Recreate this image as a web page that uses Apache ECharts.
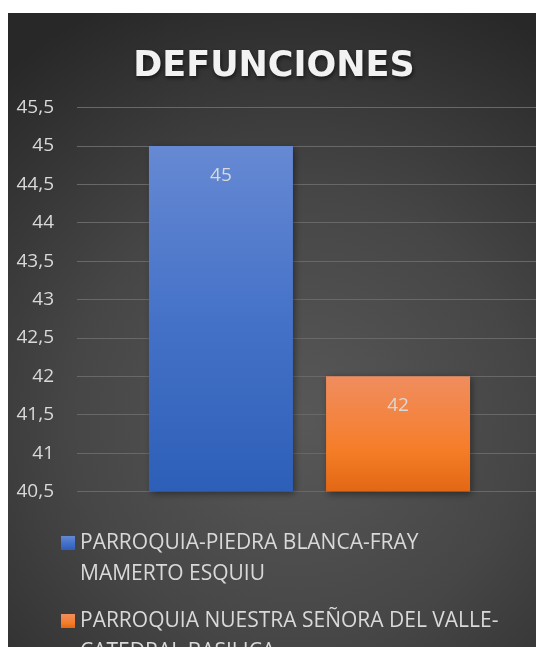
<!DOCTYPE html>
<html>
<head>
<meta charset="utf-8">
<script src="https://cdn.jsdelivr.net/npm/echarts@6/dist/echarts.min.js"></script>
<style>
html,body{margin:0;padding:0;background:#ffffff;width:536px;height:647px;overflow:hidden;}
#chart{position:absolute;left:8px;top:13px;width:534px;height:634px;}
</style>
</head>
<body>
<div id="chart"></div>
<script>
const titleText = 'DEFUNCIONES';
const categories = [''];
const seriesNames = [
  'PARROQUIA-PIEDRA BLANCA-FRAY MAMERTO ESQUIU',
  'PARROQUIA NUESTRA SEÑORA DEL VALLE-CATEDRAL BASILICA'
];
const legendLines = [
  ['PARROQUIA-PIEDRA BLANCA-FRAY', 'MAMERTO ESQUIU'],
  ['PARROQUIA NUESTRA SEÑORA DEL VALLE-', 'CATEDRAL BASILICA']
];
const seriesValues = [[45], [42]];
const yMin = 40.5, yMax = 45.5, yStep = 0.5;

function grad(stops) {
  return new echarts.graphic.LinearGradient(0, 0, 0, 1, stops.map(s => ({offset: s[0], color: s[1]})));
}
const fills = [
  grad([[0, '#6689d3'], [0.5, '#4572c8'], [1, '#2d5fb8']]),
  grad([[0, '#f08d5e'], [0.45, '#f4823a'], [0.65, '#f57d26'], [1, '#e26715']])
];

const chart = echarts.init(document.getElementById('chart'), null, {renderer: 'canvas'});
const option = {
  backgroundColor: new echarts.graphic.RadialGradient(0.54, 0.64, 0.85, [
    {offset: 0, color: '#585858'},
    {offset: 0.5, color: '#464646'},
    {offset: 1, color: '#282828'}
  ]),
  animation: false,
  title: {
    text: titleText,
    left: 261,
    top: 31,
    textAlign: 'center',
    textStyle: {
      fontFamily: 'DejaVu Sans',
      fontWeight: 'bold',
      fontSize: 35,
      color: '#f2f2f2',
      textShadowColor: 'rgba(0,0,0,0.6)',
      textShadowBlur: 4,
      textShadowOffsetX: 1,
      textShadowOffsetY: 2
    }
  },
  grid: {left: 69, right: 0, top: 94.5, height: 384, containLabel: false},
  xAxis: {
    type: 'category',
    data: categories,
    axisLine: {show: false},
    axisTick: {show: false},
    axisLabel: {show: false},
    splitLine: {show: false}
  },
  yAxis: {
    type: 'value',
    min: yMin,
    max: yMax,
    interval: yStep,
    axisLine: {show: false},
    axisTick: {show: false},
    axisLabel: {
      margin: 23,
      fontFamily: 'Open Sans',
      fontSize: 19,
      color: '#d9d9d9',
      formatter: v => String(v).replace('.', ',')
    },
    splitLine: {lineStyle: {color: '#686868', width: 1}}
  },
  legend: {
    orient: 'vertical',
    left: 53,
    top: 483.5,
    height: 400,
    padding: 0,
    itemGap: -15,
    itemWidth: 14,
    itemHeight: 14,
    icon: 'rect',
    data: seriesNames,
    formatter: name => '\n' + legendLines[seriesNames.indexOf(name)].join('\n'),
    textStyle: {
      fontFamily: 'Open Sans',
      fontSize: 21,
      lineHeight: 31,
      color: '#d9d9d9'
    }
  },
  series: seriesNames.map((name, i) => ({
    name: name,
    type: 'bar',
    data: seriesValues[i],
    barWidth: 144,
    barGap: '23%',
    itemStyle: {
      color: fills[i],
      shadowColor: 'rgba(0,0,0,0.45)',
      shadowBlur: 7,
      shadowOffsetX: 2,
      shadowOffsetY: 2
    },
    label: {
      show: true,
      position: 'insideTop',
      distance: 20,
      fontFamily: 'Open Sans',
      fontSize: 19,
      color: '#d9d9d9',
      formatter: p => String(p.value).replace('.', ',')
    }
  }))
};
chart.setOption(option);
</script>
</body>
</html>
